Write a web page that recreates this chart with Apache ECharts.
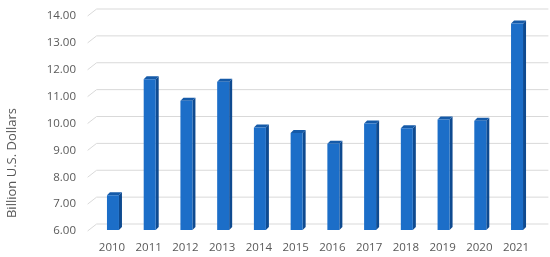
<!DOCTYPE html>
<html lang="en">
<head>
    <meta charset="UTF-8">
    <title>Billion U.S. Dollars</title>
    <style>
        html, body { margin: 0; padding: 0; background: #fff; }
    </style>
</head>
<body>
<div id="main" style="width: 550px; height: 257px;"></div>

<script src="https://cdn.jsdelivr.net/npm/echarts@6/dist/echarts.min.js"></script>
<script type="text/javascript">
    var years = ['2010', '2011', '2012', '2013', '2014', '2015', '2016', '2017', '2018', '2019', '2020', '2021'];
    var values = [7.33, 11.65, 10.85, 11.55, 9.85, 9.65, 9.25, 10.0, 9.82, 10.15, 10.1, 13.72];
    var ticks = [6, 7, 8, 9, 10, 11, 12, 13, 14];
    var yMin = 6, yMax = 14;

    var depthY = 7;               // back wall offset (vertical)
    var barW = 12, barD = 3;      // bar front width, bar depth

    var myChart = echarts.init(document.getElementById('main'));
    option = {
        animation: false,
        textStyle: { fontFamily: 'Open Sans' },
        grid: { left: 93.6, right: 15.6, top: 16, bottom: 26 },
        graphic: [{
            type: 'text',
            x: 12, y: 163,
            rotation: Math.PI / 2,
            style: {
                text: 'Billion U.S. Dollars',
                fill: '#595959',
                font: '13px "Open Sans"',
                align: 'center',
                verticalAlign: 'middle'
            }
        }],
        xAxis: {
            type: 'category',
            data: years,
            axisLine: { show: false },
            axisTick: { show: false },
            axisLabel: { color: '#595959', fontSize: 11.5, margin: 11 }
        },
        yAxis: {
            type: 'value',
            min: yMin, max: yMax, interval: 1,
            axisLine: { show: false },
            axisTick: { show: false },
            splitLine: { show: false },
            axisLabel: {
                color: '#595959', fontSize: 11.5, margin: 17.6,
                formatter: function (v) { return v.toFixed(2); }
            }
        },
        series: [
            {
                // gridlines with the slanted 3D floor/wall edge
                type: 'custom',
                silent: true,
                z: 1,
                data: ticks.map(function (t) { return [years[0], t]; }),
                renderItem: function (params, api) {
                    var cs = params.coordSys;
                    var y = api.coord([api.value(0), api.value(1)])[1];
                    return {
                        type: 'polyline',
                        shape: { points: [[cs.x - 6, y], [cs.x + 3, y - depthY], [cs.x + cs.width + 14, y - depthY]] },
                        style: { stroke: '#d9d9d9', lineWidth: 1, fill: null }
                    };
                }
            },
            {
                type: 'custom',
                z: 2,
                data: years.map(function (y, i) { return [y, values[i]]; }),
                renderItem: function (params, api) {
                    var top = api.coord([api.value(0), api.value(1)]);
                    var bot = api.coord([api.value(0), yMin]);
                    var x0 = top[0] - barW / 2 + 1, x1 = x0 + barW;
                    var yt = top[1], yb = bot[1] - 1;
                    return {
                        type: 'group',
                        children: [
                            {
                                type: 'polygon',
                                shape: { points: [[x1, yt], [x1 + barD, yt - barD], [x1 + barD, yb - barD], [x1, yb]] },
                                style: { fill: '#0e4a90' }
                            },
                            {
                                type: 'polygon',
                                shape: { points: [[x0, yt], [x0 + barD, yt - barD], [x1 + barD, yt - barD], [x1, yt]] },
                                style: { fill: '#155aa8' }
                            },
                            {
                                type: 'rect',
                                shape: { x: x0, y: yt, width: barW, height: yb - yt },
                                style: { fill: '#1c6ec8' }
                            }
                        ]
                    };
                }
            }
        ]
    };
    myChart.setOption(option);
</script>

</body>
</html>
